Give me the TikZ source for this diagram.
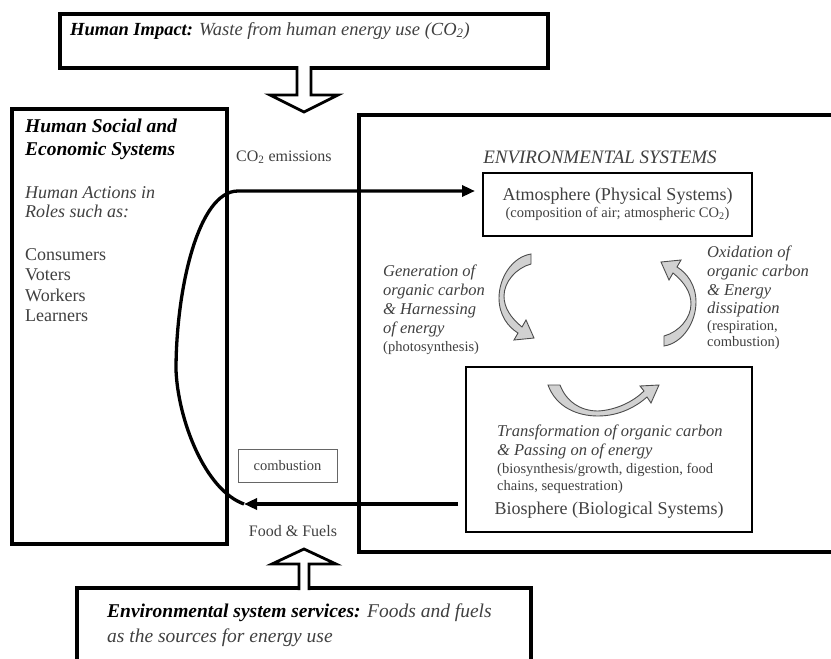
\documentclass[tikz,border=0pt]{standalone}
\usepackage{fontspec}
\setmainfont{Liberation Serif}
\usetikzlibrary{arrows.meta,calc}

\definecolor{txtgray}{gray}{0.25}
\newcommand{\pxfont}[2]{\fontsize{#1}{#2}\selectfont}

\tikzset{
  cyclearrow/.pic={
    \filldraw[curvearrow] (15,-46) .. controls (-4,-43) and (-17,-22) .. (-17,-2)
      .. controls (-17,15) and (-8,27) .. (2,33) -- (-2,40) -- (18,38) -- (10,20) -- (6,27)
      .. controls (-5,18) and (-12,8) .. (-12,-4) .. controls (-12,-18) and (0,-32) .. (15,-36) -- cycle;
  }
}

\begin{document}
\begin{tikzpicture}[x=1pt, y=-1pt,
  bigbox/.style={draw, line width=3.3pt, inner sep=0pt, outer sep=0pt},
  subbox/.style={draw, line width=2.6pt, inner sep=0pt, outer sep=0pt},
  blockarrow/.style={draw, line width=2.8pt, fill=white, line join=miter},
  curvearrow/.style={draw=black!70, line width=0.9pt, fill=black!18},
  flow/.style={line width=3.3pt, -{Triangle[length=13pt,width=11pt]}},
  txt/.style={inner sep=0pt, text=txtgray}]
  \clip (0,0) rectangle (831,659);
  \fill[white] (0,0) rectangle (831,659);

  % boxes
  \node[bigbox, minimum width=488, minimum height=54] (impact) at (304,41) {};
  \node[bigbox, minimum width=215, minimum height=435] (social) at (119.5,326.5) {};
  \node[bigbox, minimum width=492, minimum height=437] (env) at (605,333.5) {};
  \node[bigbox, minimum width=454, minimum height=112] (services) at (304,644) {};
  \node[subbox, minimum width=269, minimum height=63, align=center, text=txtgray,
        font=\pxfont{14.5}{17}] (atmos) at (617.5,204.5)
        {{\pxfont{18}{20}Atmosphere (Physical Systems)}\\(composition of air; atmospheric CO\textsubscript{2})};
  \node[subbox, minimum width=286, minimum height=165] (bio) at (609,449.5) {};
  \node[draw=black!60, line width=1pt, minimum width=99, minimum height=33, inner sep=0pt,
        text=txtgray, font=\pxfont{14.5}{17}] (comb) at (287.5,465.5) {combustion};

  % block arrows
  \filldraw[blockarrow] ($(impact.south)+(-7,-2)$) -- ++(0,29) -- ++(-27,0)
    -- ($(impact.south)+(0,44)$) -- ($(impact.south)+(34,27)$) -- ++(-27,0) -- ++(0,-29);
  \filldraw[blockarrow] ($(services.north)+(-5,2)$) -- ++(0,-26) -- ++(-27,0)
    -- ($(services.north)+(0,-39)$) -- ($(services.north)+(32,-24)$) -- ++(-27,0) -- ++(0,26);

  % carbon flow
  \coordinate (food) at (244,504);
  \coordinate (emit) at (238,191);
  \draw[flow, shorten <=8pt] (bio.west |- food) -- (food);
  \draw[flow, shorten >=8pt] (food) .. controls (205,490) and (178,420) .. (176,370)
    .. controls (176,290) and (198,191) .. (emit) -- (emit -| atmos.west);

  % cycle arrows
  \pic at (516,300) {cyclearrow};
  \pic[rotate=180] at (679,300) {cyclearrow};
  \filldraw[curvearrow] (548,385) .. controls (556,407) and (577,416) .. (598,416)
    .. controls (620,416) and (637,406) .. (647,397) -- (651,403) -- (659,385) -- (640,386) -- (644,391)
    .. controls (634,401) and (617,410) .. (598,411) .. controls (580,411) and (566,401) .. (560,385) -- cycle;

  % texts
  \node[txt, anchor=base west, font=\pxfont{18.5}{22}] (impacttxt) at (70,35)
    {\textcolor{black}{\textbf{\textit{Human Impact:}}} \textit{Waste from human energy use (CO\textsubscript{2})}};
  \node[inner sep=0pt, anchor=north west, align=left, font=\bfseries\itshape\pxfont{19.5}{23}] (socialtitle)
    at (25,119) {Human Social and\\Economic Systems};
  \node[txt, anchor=north west, align=left, font=\itshape\pxfont{18}{19.5}] (actions)
    at (25,186) {Human Actions in\\Roles such as:};
  \node[txt, anchor=north west, align=left, font=\pxfont{18}{20.5}] (roles)
    at (25,248) {Consumers\\Voters\\Workers\\Learners};
  \node[txt, anchor=west, font=\pxfont{16}{19}] (emittxt) at (236,157) {CO\textsubscript{2} emissions};
  \node[txt, font=\pxfont{16}{19}] (foodtxt) at (293,531) {Food \& Fuels};
  \node[txt, font=\itshape\pxfont{19}{22}] (envtitle) at (600,157) {ENVIRONMENTAL SYSTEMS};
  \node[txt, anchor=north west, align=left, font=\itshape\pxfont{16.5}{19}] (gentxt)
    at (383,265) {Generation of\\organic carbon\\\& Harnessing\\of energy};
  \node[txt, anchor=north west, font=\pxfont{14.5}{17}] (gennote) at (383,341) {(photosynthesis)};
  \node[txt, anchor=north west, align=left, font=\itshape\pxfont{16.5}{18.7}] (oxtxt)
    at (707,246) {Oxidation of\\organic carbon\\\& Energy\\dissipation};
  \node[txt, anchor=north west, align=left, font=\pxfont{14.5}{16}] (oxnote)
    at (707,320) {(respiration,\\combustion)};
  \node[txt, anchor=north west, align=left, font=\itshape\pxfont{16.5}{19}] (biotxt)
    at (497,425) {Transformation of organic carbon\\\& Passing on of energy};
  \node[txt, anchor=north west, align=left, font=\pxfont{14.5}{17}] (bionote)
    at (497,463) {(biosynthesis/growth, digestion, food\\chains, sequestration)};
  \node[txt, font=\pxfont{18}{20}] (bioname) at (609,510) {Biosphere (Biological Systems)};
  \node[txt, anchor=north west, align=left, font=\itshape\pxfont{19.5}{25}] (servicetxt)
    at (107,604) {\textcolor{black}{\bfseries Environmental system services:} Foods and fuels\\as the sources for energy use};
\end{tikzpicture}
\end{document}
